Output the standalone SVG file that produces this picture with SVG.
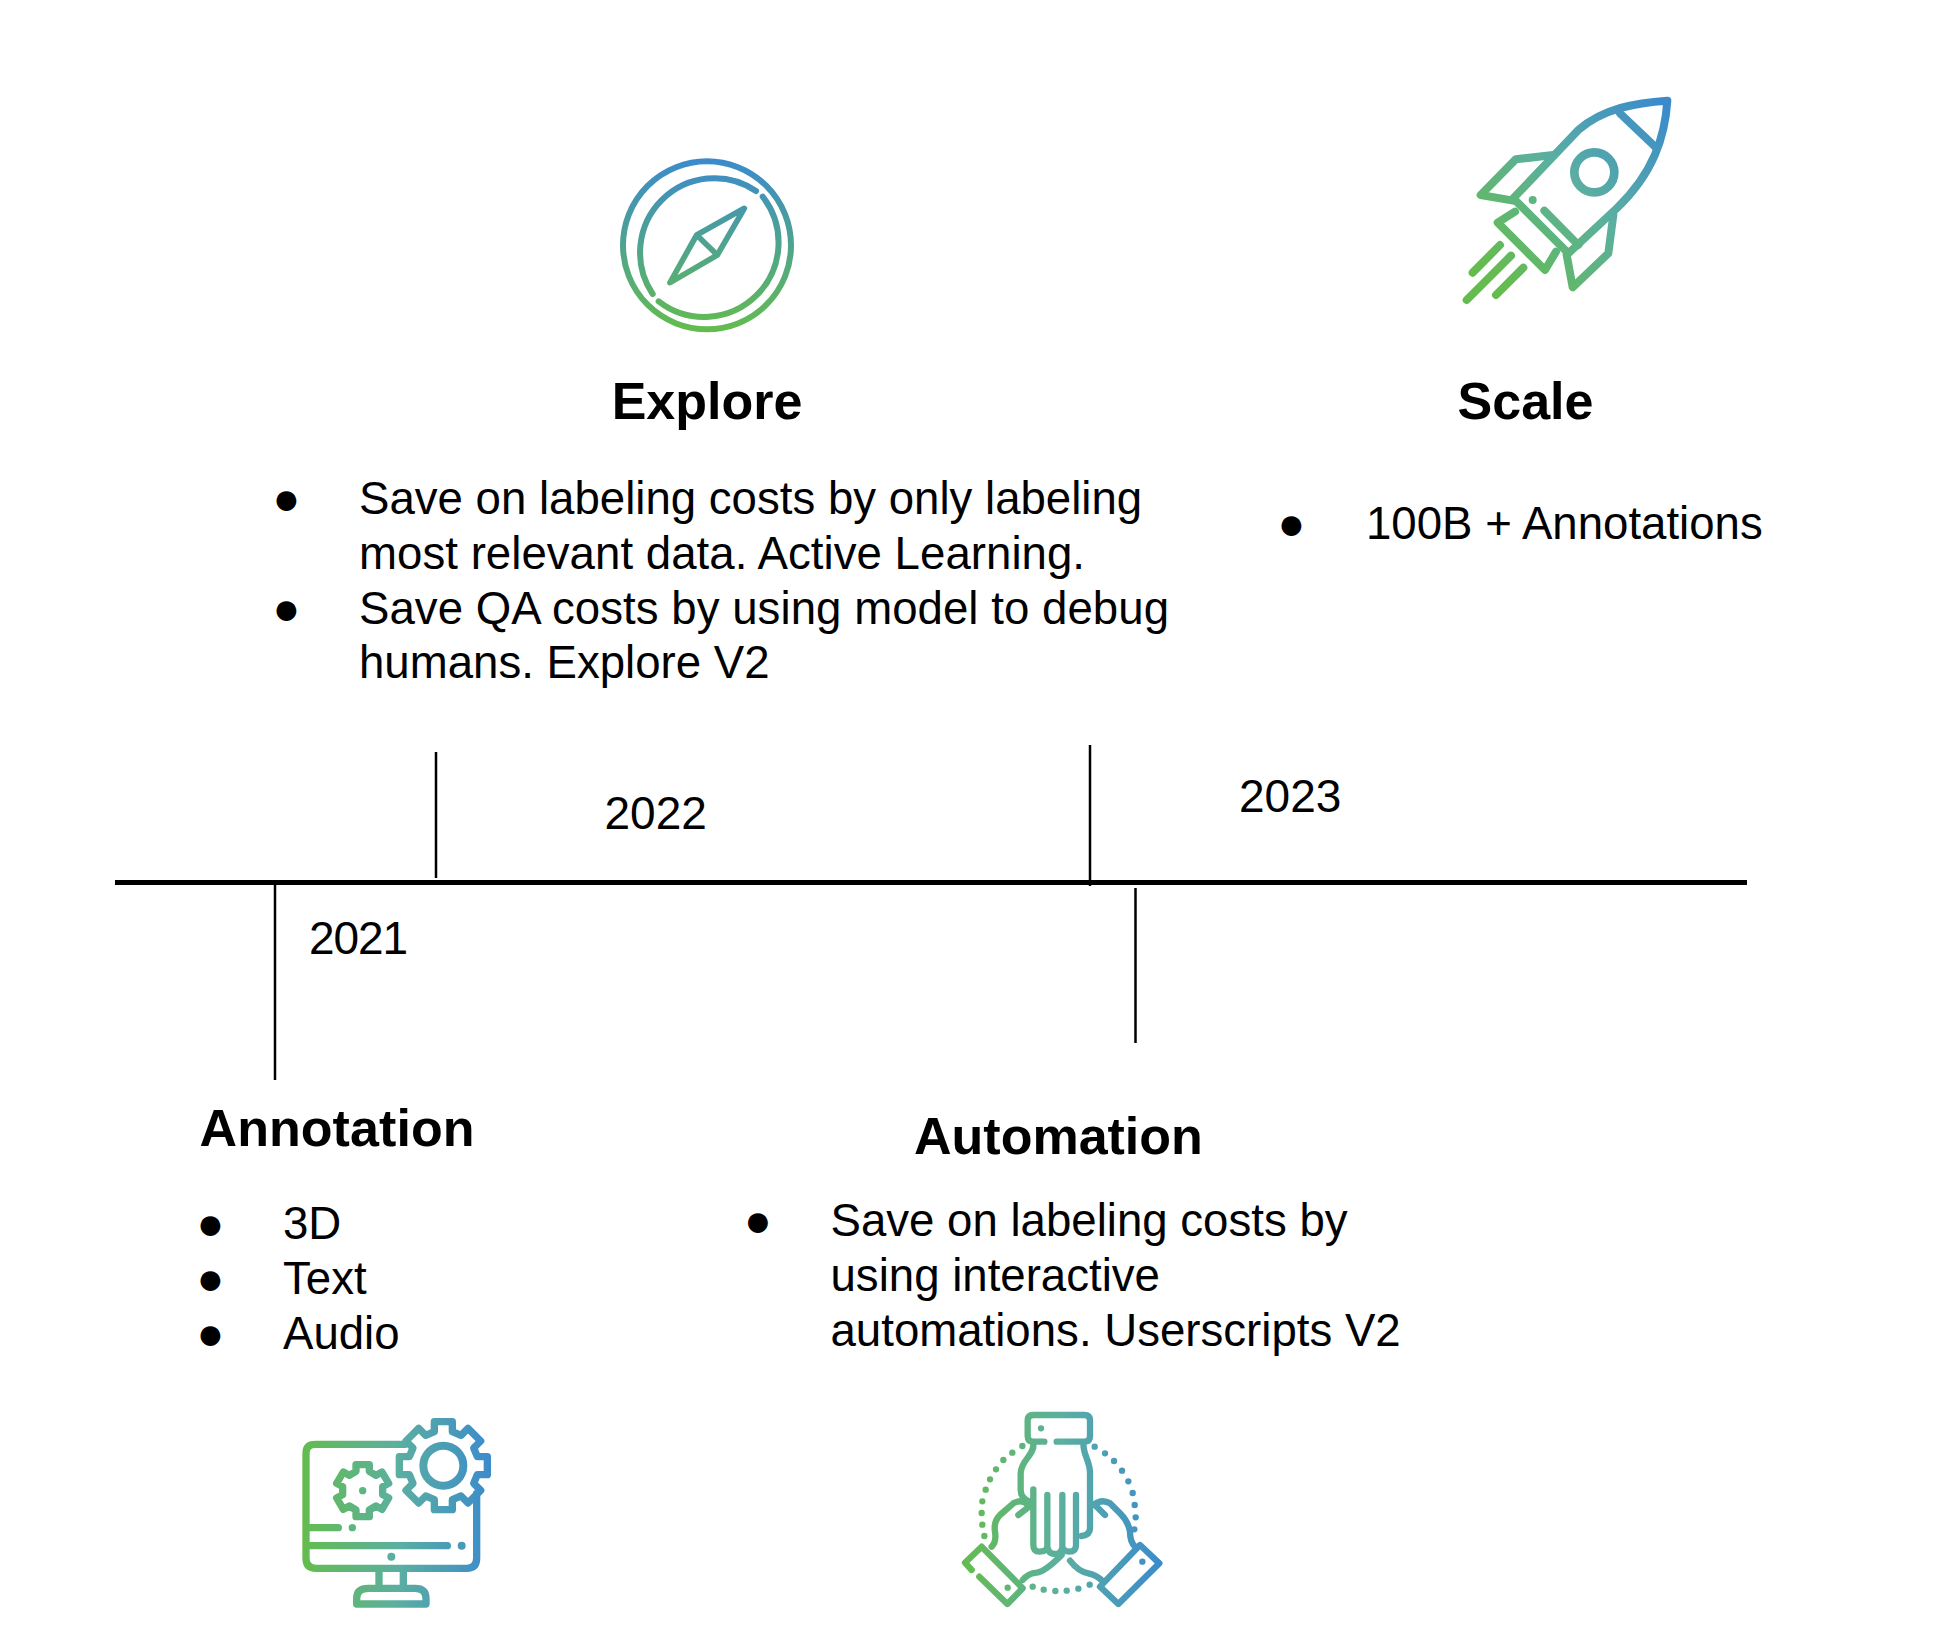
<svg xmlns="http://www.w3.org/2000/svg" width="1947" height="1647" viewBox="0 0 1947 1647">
<style>
text{font-family:"Liberation Sans",Arial,sans-serif;fill:#000}
.b{font-size:45.6px}
.h{font-size:52px;font-weight:700}
.y{font-size:46px}
.dot{font-size:46px}
.i{fill:none;stroke-linecap:round;stroke-linejoin:round}
.ln{stroke:#000;stroke-width:2.5;fill:none}
</style>
<defs>
<linearGradient id="gc" gradientUnits="userSpaceOnUse" x1="0" y1="60" x2="0" y2="575"><stop offset="0" stop-color="#3b8bcc"/><stop offset="1" stop-color="#64bc4e"/></linearGradient>
<linearGradient id="gr" gradientUnits="userSpaceOnUse" x1="130" y1="580" x2="640" y2="75"><stop offset="0" stop-color="#64bc4e"/><stop offset=".5" stop-color="#5bafa0"/><stop offset="1" stop-color="#3b8bcc"/></linearGradient>
<linearGradient id="gm" gradientUnits="userSpaceOnUse" x1="38" y1="0" x2="605" y2="0"><stop offset="0" stop-color="#64bc4e"/><stop offset=".5" stop-color="#5bafa0"/><stop offset="1" stop-color="#3b8bcc"/></linearGradient>
<linearGradient id="gh" gradientUnits="userSpaceOnUse" x1="38" y1="0" x2="632" y2="0"><stop offset="0" stop-color="#64bc4e"/><stop offset=".5" stop-color="#5bafa0"/><stop offset="1" stop-color="#3b8bcc"/></linearGradient>
</defs>
<g id="connectors">
<line x1="115" y1="882.5" x2="1747" y2="882.5" stroke="#000" stroke-width="5"/>
<line class="ln" x1="275" y1="882" x2="275" y2="1080"/>
<line class="ln" x1="436" y1="752" x2="436" y2="878"/>
<line class="ln" x1="1090" y1="745" x2="1090" y2="886"/>
<line class="ln" x1="1135.500" y1="888" x2="1135.500" y2="1043"/>
</g>
<g id="explore">
<g class="i" stroke="url(#gc)" transform="translate(600 140) scale(.33333)">
<circle cx="321" cy="316" r="252" stroke-width="18"/>
<path stroke-width="18" d="M468 153A223 223 0 0 0 158 462M176 484A223 223 0 0 0 488 170"/>
<path stroke-width="17" d="M433 205L290 285L210 428L352 345ZM290 285L352 345"/>
</g>
<text class="h" x="707" y="419" text-anchor="middle">Explore</text>
<text class="dot" x="272.500" y="514">●</text>
<text class="b" x="359" y="513.5">Save on labeling costs by only labeling</text>
<text class="b" x="359" y="568.5" textLength="726">most relevant data. Active Learning.</text>
<text class="dot" x="272.500" y="624">●</text>
<text class="b" x="359" y="624" textLength="810">Save QA costs by using model to debug</text>
<text class="b" x="359" y="678">humans. Explore V2</text>
</g>
<g id="scale">
<g class="i" stroke="url(#gr)" stroke-width="24" transform="translate(1450 80) scale(.33333)">
<path d="M652 62C560 68 460 85 385 150L190 355L355 520L500 385C610 280 645 170 652 62Z"/>
<path d="M510 100L615 200"/>
<circle cx="433" cy="277" r="60" stroke-width="26"/>
<path d="M310 225L197 238L92 345L190 362"/>
<path d="M490 405L475 520L368 622L350 525"/>
<path d="M195 395L143 428L285 570L318 515"/>
<path d="M283 392L385 495"/>
<path d="M150 495L68 578M183 527L50 660M220 563L138 645"/>
<circle cx="248" cy="360" r="12" fill="#5bb67f" stroke="none"/>
</g>
<text class="h" x="1525.5" y="419" text-anchor="middle">Scale</text>
<text class="dot" x="1277.500" y="539">●</text>
<text class="b" x="1366" y="539">100B + Annotations</text>
</g>
<g id="y2021"><text class="y" x="309" y="954" textLength="99">2021</text></g>
<g id="y2022"><text class="y" x="604.5" y="829">2022</text></g>
<g id="y2023"><text class="y" x="1239" y="812">2023</text></g>
<g id="annotation">
<text class="h" x="199.500" y="1145.500" textLength="275">Annotation</text>
<text class="dot" x="196.500" y="1239">●</text>
<text class="b" x="283" y="1239">3D</text>
<text class="dot" x="196.500" y="1294">●</text>
<text class="b" x="283" y="1294">Text</text>
<text class="dot" x="196.500" y="1349">●</text>
<text class="b" x="283" y="1349">Audio</text>
<g class="i" stroke="url(#gm)" stroke-width="22" transform="translate(290 1400) scale(.33333)">
<path d="M345 133L75 133Q48 133 48 160L48 475Q48 505 78 505L530 505Q560 505 560 475L560 280"/>
<path d="M50 383L145 383M50 437L472 437M267 510L267 560M340 510L340 560"/>
<path d="M200 612L200 595Q200 565 235 565L375 565Q408 565 408 595L408 612Z"/>
<path d="M433 95L433 65L487 65L487 95L513 106L534 85L572 123L551 144L562 170L592 170L592 224L562 224L551 250L572 271L534 309L513 288L487 299L487 329L433 329L433 299L407 288L386 309L348 271L369 250L358 224L328 224L328 170L358 170L369 144L348 123L386 85L407 106Z"/>
<circle cx="460" cy="197" r="60" stroke-width="24"/>
<path stroke-width="22" d="M198 214L198 194L238 194L238 214L258 226L276 216L296 250L278 260L278 284L296 294L276 328L258 318L238 330L238 350L198 350L198 330L178 318L160 328L140 294L158 284L158 260L140 250L160 216L178 226Z"/>
<circle cx="218" cy="272" r="11" fill="#5bb67f" stroke="none"/>
<circle cx="187" cy="383" r="11" fill="#5bb67f" stroke="none"/>
<circle cx="515" cy="437" r="12" fill="#489bb8" stroke="none"/>
<circle cx="304" cy="470" r="12" fill="#5bafa0" stroke="none"/>
</g>
</g>
<g id="automation">
<text class="h" x="914" y="1153.500">Automation</text>
<text class="dot" x="744" y="1236">●</text>
<text class="b" x="830.500" y="1236">Save on labeling costs by</text>
<text class="b" x="830.500" y="1291">using interactive</text>
<text class="b" x="830.500" y="1346">automations. Userscripts V2</text>
<g class="i" stroke="url(#gh)" stroke-width="19" transform="translate(950 1400) scale(.33333)">
<path d="M283 125L250 125Q233 125 233 108L233 62Q233 45 250 45L403 45Q420 45 420 62L420 108Q420 125 403 125L320 125"/>
<path d="M250 130C255 165 212 180 212 220L212 270Q212 295 240 305"/>
<path d="M400 130C400 170 420 180 420 220L420 385Q420 405 395 408"/>
<path d="M250 268L250 435Q250 455 268 455Q290 455 292 440L292 285M292 440Q295 462 315 462Q335 462 337 440L337 285M337 440Q340 455 358 455Q378 455 378 435L378 285"/>
<path d="M65 510L45 488L95 440L218 565L172 612L88 530"/>
<path d="M125 440Q140 425 135 395Q130 365 150 345L190 310Q215 295 235 315M205 345L240 318"/>
<path d="M218 540Q235 520 260 518Q285 515 335 465"/>
<path d="M570 435L628 490L505 612L450 560Z"/>
<path d="M555 440Q540 425 540 395Q535 365 510 340L480 310Q455 295 430 315M465 345L435 315"/>
<path d="M360 482Q385 515 415 520Q440 525 460 545"/>
<path stroke-width="19" d="M273 85h.1M173 563h.1M577 485h.1M217 138h.1M187 158h.1M160 180h.1M138 208h.1M120 238h.1M107 269h.1M97 304h.1M95 339h.1M97 374h.1M103 408h.1M434 140h.1M465 160h.1M492 183h.1M516 212h.1M535 244h.1M548 279h.1M554 315h.1M557 352h.1M553 388h.1M248 560h.1M281 569h.1M316 573h.1M350 572h.1M385 566h.1M419 554h.1"/>
</g>
</g>
</svg>
